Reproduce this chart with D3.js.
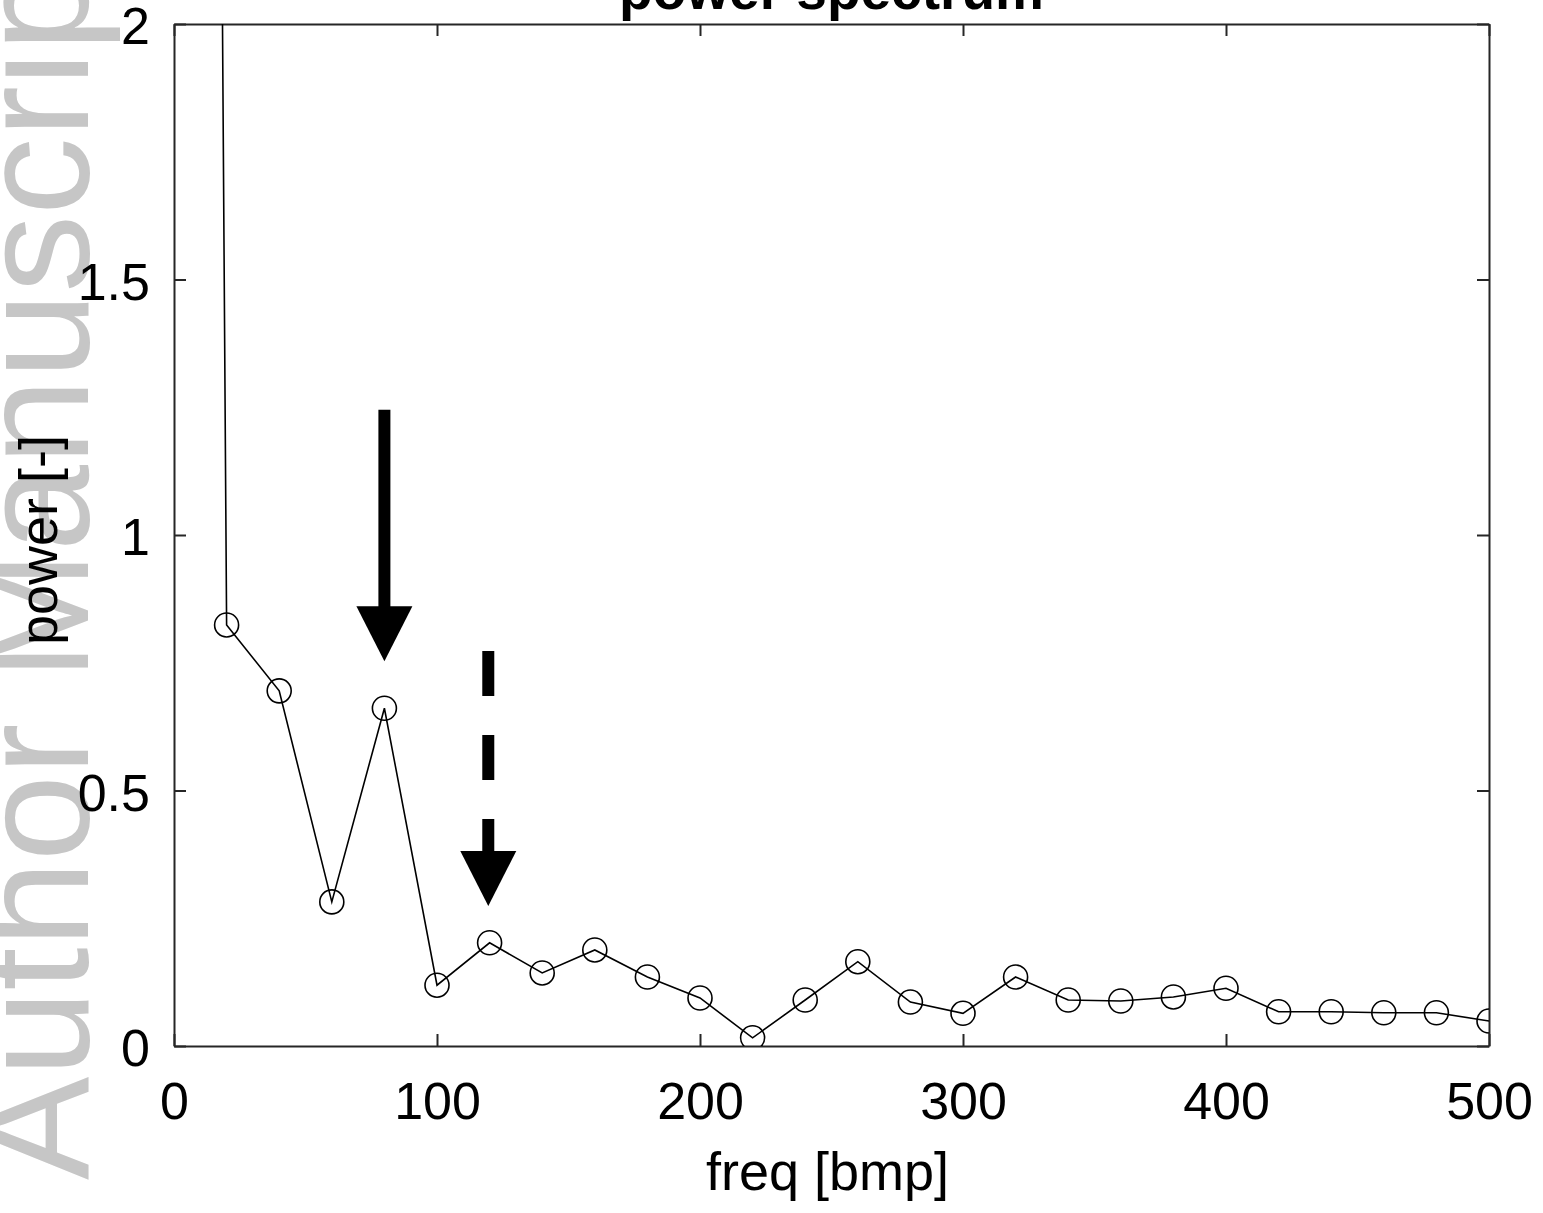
<!DOCTYPE html>
<html>
<head>
<meta charset="utf-8">
<script src="https://cdn.jsdelivr.net/npm/d3@7"></script>
<style>
  html, body { margin: 0; padding: 0; background: #fff; }
  svg { display: block; }
  text { font-family: "Liberation Sans", Arial, Helvetica, sans-serif; }
</style>
</head>
<body>
<svg id="chart" width="1543" height="1213"></svg>
<script>
// ---- data ----
const freq  = [0, 20, 40, 60, 80, 100, 120, 140, 160, 180, 200, 220, 240, 260, 280, 300, 320, 340, 360, 380, 400, 420, 440, 460, 480, 500];
const power = [15.9, 0.824, 0.695, 0.282, 0.661, 0.119, 0.202, 0.143, 0.188, 0.135, 0.094, 0.016, 0.090, 0.165, 0.086, 0.064, 0.135, 0.090, 0.088, 0.096, 0.113, 0.067, 0.067, 0.065, 0.065, 0.049];
const xTicks = [0, 100, 200, 300, 400, 500];
const yTicks = [0, 0.5, 1, 1.5, 2];
const yTickLabels = ["0", "0.5", "1", "1.5", "2"];
// annotation arrows: frequency, start power, tip power, dashed?
const arrowFreq  = [80, 119.5];
const arrowStart = [1.245, 0.773];
const arrowTip   = [0.753, 0.274];
const arrowDashed = [false, true];
const titleText = "power spectrum";
const xLabelText = "freq [bmp]";
const yLabelText = "power [-]";
const watermarkText = "Author Manuscript";

// ---- layout ----
const svg = d3.select("#chart");
const L = 174, R = 1489, T = 24, B = 1046;
const x = d3.scaleLinear().domain([0, 500]).range([L, R]);
const y = d3.scaleLinear().domain([0, 2]).range([B, T]);
const axisColor = "#262626";
const fs = 52;

// watermark
svg.append("text")
  .attr("transform", "translate(88,1180) rotate(-90)")
  .attr("font-size", 155)
  .attr("fill", "#c6c6c6")
  .attr("text-anchor", "start")
  .text(watermarkText);

// clip
svg.append("defs").append("clipPath").attr("id", "plotclip")
  .append("rect").attr("x", L).attr("y", T).attr("width", R - L).attr("height", B - T);

// axes
function styleAxis(g) {
  g.selectAll("path.domain").attr("stroke", axisColor).attr("stroke-width", 2);
  g.selectAll(".tick line").attr("stroke", axisColor).attr("stroke-width", 2);
  g.selectAll(".tick text").attr("fill", "#000").attr("font-size", fs)
    .attr("font-family", "'Liberation Sans', Arial, Helvetica, sans-serif");
}
svg.append("g").attr("transform", `translate(0,${B})`)
  .call(d3.axisBottom(x).tickValues(xTicks).tickFormat(d3.format("d")).tickSizeInner(-12).tickSizeOuter(0).tickPadding(36))
  .call(styleAxis);
svg.append("g").attr("transform", `translate(0,${T})`)
  .call(d3.axisTop(x).tickValues(xTicks).tickFormat("").tickSizeInner(-12).tickSizeOuter(0))
  .call(styleAxis);
svg.append("g").attr("transform", `translate(${L},0)`)
  .call(d3.axisLeft(y).tickValues(yTicks).tickFormat((d, i) => yTickLabels[i]).tickSizeInner(-12).tickSizeOuter(0).tickPadding(24))
  .call(styleAxis)
  .call(g => g.selectAll(".tick text").attr("dy", "0.38em"));
svg.append("g").attr("transform", `translate(${R},0)`)
  .call(d3.axisRight(y).tickValues(yTicks).tickFormat("").tickSizeInner(-12).tickSizeOuter(0))
  .call(styleAxis);

// data line + markers
const plot = svg.append("g").attr("clip-path", "url(#plotclip)");
const pts = freq.map((f, i) => [f, power[i]]);
plot.append("path")
  .datum(pts)
  .attr("fill", "none")
  .attr("stroke", "#000")
  .attr("stroke-width", 1.6)
  .attr("d", d3.line().x(d => x(d[0])).y(d => y(d[1])));
plot.selectAll("circle.m").data(pts).enter().append("circle")
  .attr("class", "m")
  .attr("cx", d => x(d[0])).attr("cy", d => y(d[1]))
  .attr("r", 12)
  .attr("fill", "none").attr("stroke", "#000").attr("stroke-width", 1.6);

// arrows
const headW = 56, headH = 55, shaftW = 12;
arrowFreq.forEach((f, i) => {
  const cx = x(f), y0 = y(arrowStart[i]), yt = y(arrowTip[i]);
  const yh = yt - headH;
  const g = svg.append("g");
  g.append("line")
    .attr("x1", cx).attr("x2", cx).attr("y1", y0).attr("y2", yh + 1)
    .attr("stroke", "#000").attr("stroke-width", shaftW)
    .attr("stroke-dasharray", arrowDashed[i] ? "45,39" : null);
  g.append("path")
    .attr("d", `M${cx - headW / 2},${yh}L${cx + headW / 2},${yh}L${cx},${yt}Z`)
    .attr("fill", "#000");
});

// labels
svg.append("text")
  .attr("x", (L + R) / 2).attr("y", 9)
  .attr("text-anchor", "middle").attr("font-size", 55).attr("font-weight", "bold")
  .text(titleText);
svg.append("text")
  .attr("x", (L + R) / 2 - 4).attr("y", 1190)
  .attr("text-anchor", "middle").attr("font-size", 54)
  .text(xLabelText);
svg.append("text")
  .attr("transform", "translate(57,540) rotate(-90)")
  .attr("text-anchor", "middle").attr("font-size", 54)
  .text(yLabelText);
</script>
</body>
</html>
